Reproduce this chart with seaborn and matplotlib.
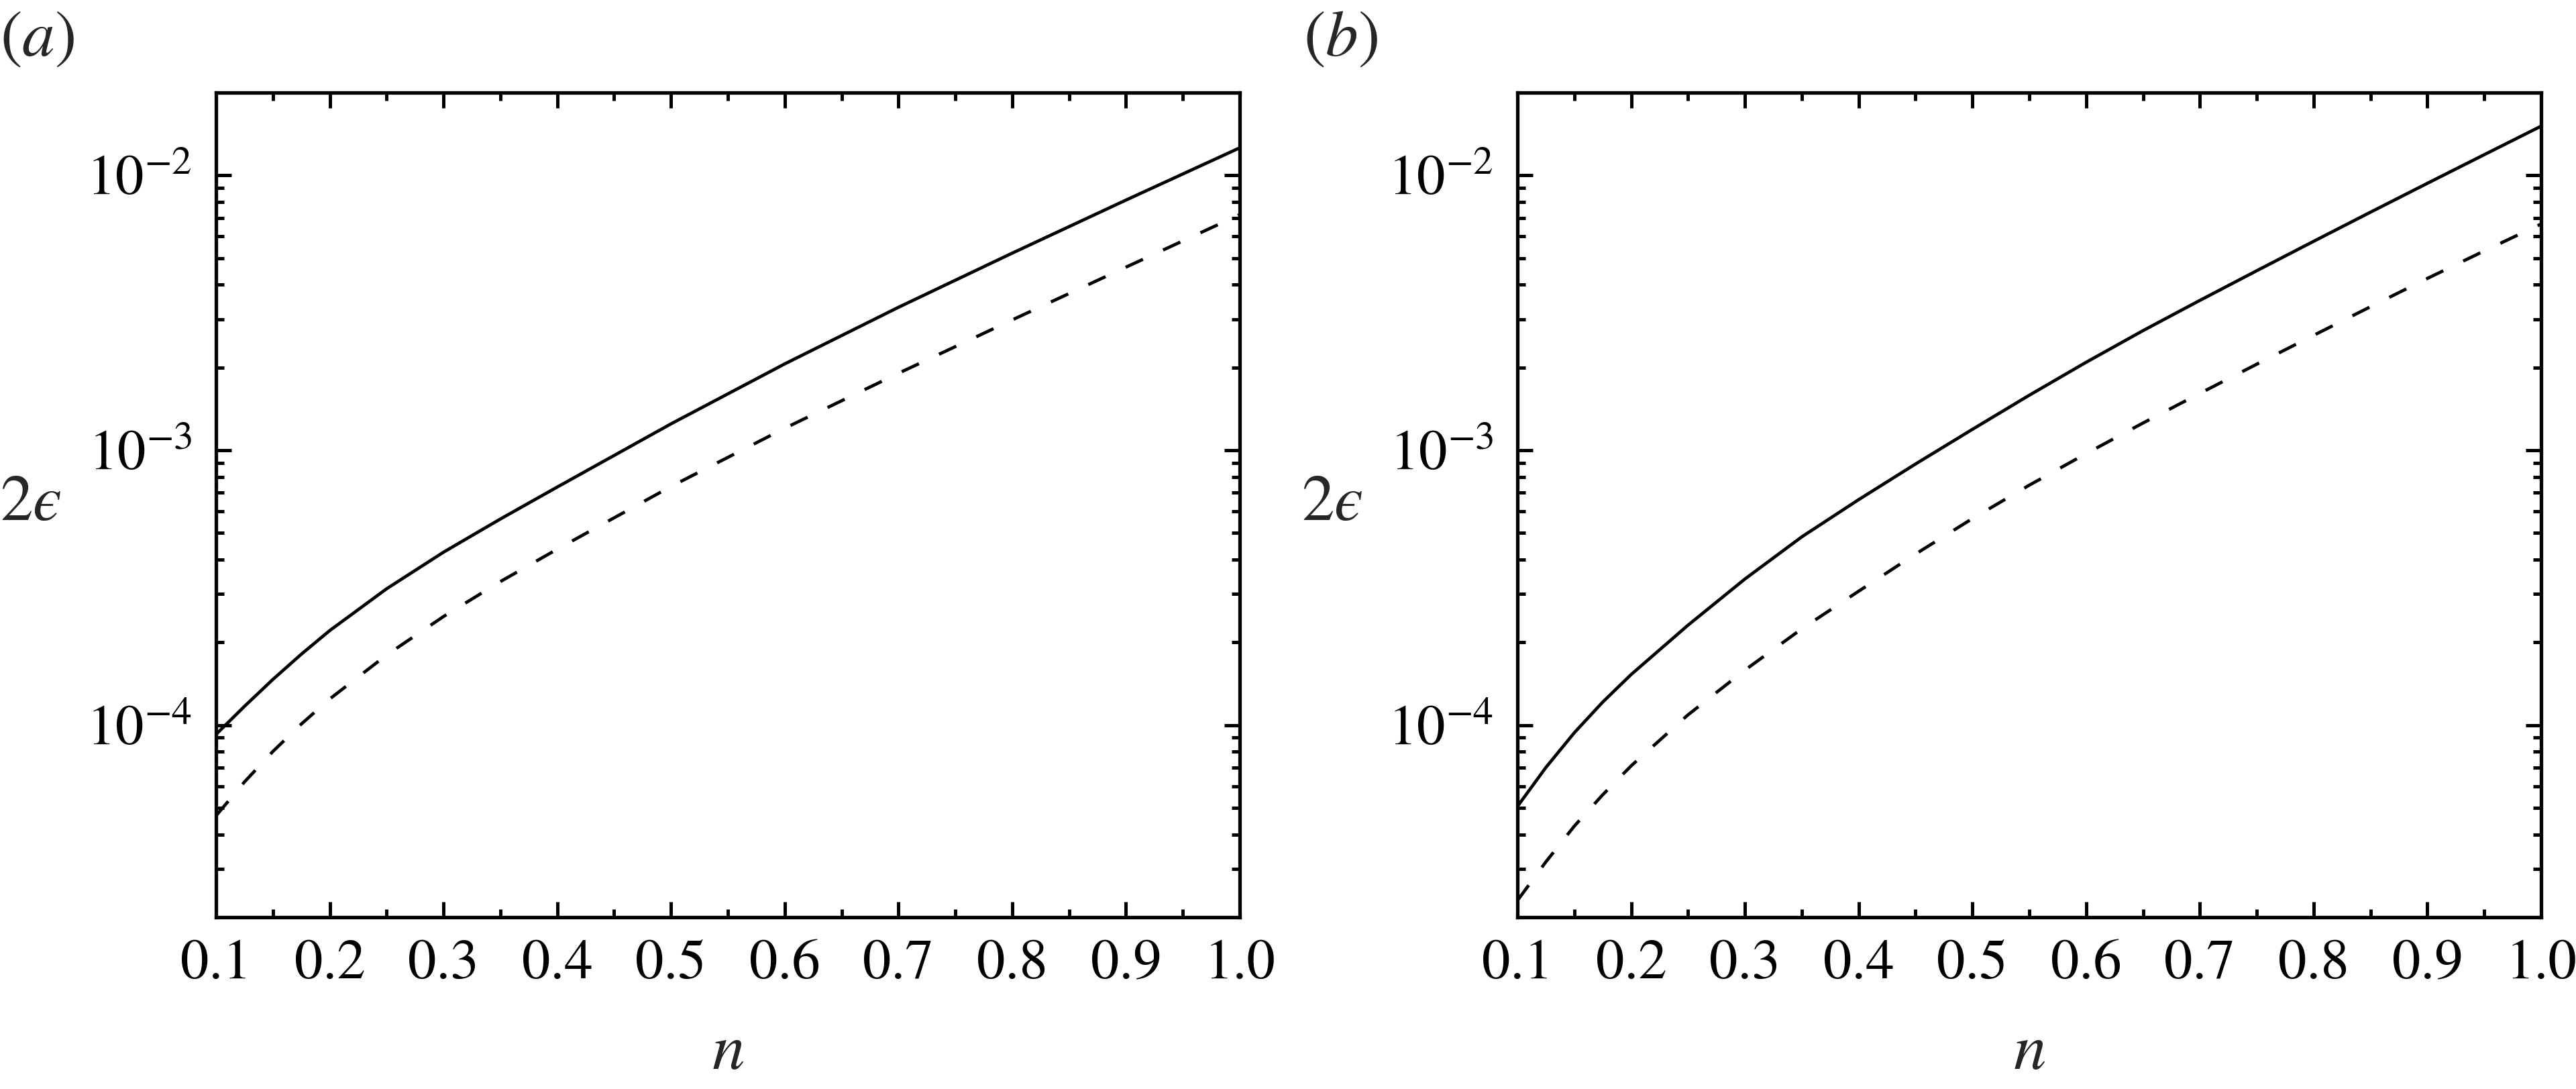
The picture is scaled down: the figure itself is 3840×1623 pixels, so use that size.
import numpy as np
import pandas as pd
import matplotlib
matplotlib.use("Agg")
import matplotlib.pyplot as plt
import seaborn as sns
from matplotlib.ticker import (LogLocator, MultipleLocator, FormatStrFormatter,
                               NullFormatter, LogFormatterSciNotation)

# ---------------- data ----------------
n_a = [0.1, 0.125, 0.15, 0.175, 0.2, 0.25, 0.3, 0.35, 0.4, 0.5, 0.6, 0.7, 0.8, 0.9, 1.0]
solid_a = [9.25e-5, 1.17e-4, 1.466e-4, 1.811e-4, 2.208e-4, 3.133e-4, 4.256e-4, 5.62e-4,
           7.345e-4, 1.247e-3, 2.061e-3, 3.311e-3, 5.212e-3, 8.128e-3, 1.259e-2]
dashed_a = [4.677e-5, 6.21e-5, 8.02e-5, 1.009e-4, 1.245e-4, 1.799e-4, 2.483e-4, 3.327e-4,
            4.365e-4, 7.38e-4, 1.202e-3, 1.905e-3, 2.979e-3, 4.634e-3, 7.194e-3]

n_b = [0.1, 0.125, 0.15, 0.175, 0.2, 0.25, 0.3, 0.35, 0.4, 0.45, 0.5, 0.55, 0.6,
       0.65, 0.7, 0.75, 0.8, 0.85, 0.9, 0.95, 1.0]
solid_b = [5.06e-5, 7.01e-5, 9.38e-5, 1.213e-4, 1.528e-4, 2.31e-4, 3.40e-4, 4.84e-4,
           6.61e-4, 8.91e-4, 1.191e-3, 1.585e-3, 2.089e-3, 2.723e-3, 3.508e-3, 4.498e-3,
           5.754e-3, 7.345e-3, 9.354e-3, 1.189e-2, 1.510e-2]
dashed_b = [2.30e-5, 3.18e-5, 4.29e-5, 5.58e-5, 7.11e-5, 1.09e-4, 1.585e-4, 2.24e-4,
            3.07e-4, 4.19e-4, 5.64e-4, 7.46e-4, 9.72e-4, 1.256e-3, 1.61e-3, 2.056e-3,
            2.618e-3, 3.327e-3, 4.217e-3, 5.309e-3, 6.65e-3]

panel_labels = [r"$(a)$", r"$(b)$"]
x_label = r"$n$"
y_label = "$2\u03f5$"
x_limits = (0.1, 1.0)
y_limits = (2e-5, 2e-2)

# ---------------- style ----------------
sns.set_theme(style="ticks")
plt.rcParams.update({
    "font.family": ["STIXGeneral", "DejaVu Serif"],
    "mathtext.fontset": "stix",
    "axes.facecolor": "white",
    "figure.facecolor": "white",
    "axes.edgecolor": "black",
    "axes.linewidth": 3.8,
    "xtick.color": "black",
    "ytick.color": "black",
})

W, H = 3840, 1623
fig = plt.figure(figsize=(W / 100, H / 100), dpi=100)

ax_lefts = [322, 2262]
ax_top, ax_bottom, ax_width = 138, 1367, 1526
label_x = [0, 1943]

panels = [(n_a, solid_a, dashed_a), (n_b, solid_b, dashed_b)]

for i, (n, s, d) in enumerate(panels):
    ax = fig.add_axes([ax_lefts[i] / W, 1 - ax_bottom / H,
                       ax_width / W, (ax_bottom - ax_top) / H])
    df = pd.concat([
        pd.DataFrame({"n": n, "eps": s, "curve": "solid"}),
        pd.DataFrame({"n": n, "eps": d, "curve": "dashed"}),
    ], ignore_index=True)
    sns.lineplot(data=df, x="n", y="eps", style="curve",
                 dashes={"solid": "", "dashed": (6, 7)},
                 color="black", lw=3.4, errorbar=None, legend=False, ax=ax)
    ax.set_yscale("log")
    ax.set_xlim(*x_limits)
    ax.set_ylim(*y_limits)

    ax.xaxis.set_major_locator(MultipleLocator(0.1))
    ax.xaxis.set_minor_locator(MultipleLocator(0.05))
    ax.xaxis.set_major_formatter(FormatStrFormatter("%.1f"))
    ax.yaxis.set_major_locator(LogLocator(base=10, numticks=12))
    ax.yaxis.set_minor_locator(LogLocator(base=10, subs=np.arange(2, 10), numticks=12))
    ax.yaxis.set_major_formatter(LogFormatterSciNotation())
    ax.yaxis.set_minor_formatter(NullFormatter())

    ax.tick_params(which="both", direction="in", top=True, right=True,
                   width=3.6, labelsize=61)
    ax.tick_params(which="major", length=16.5)
    ax.tick_params(which="minor", length=8.5)
    ax.tick_params(axis="x", which="major", pad=24)
    ax.tick_params(axis="y", which="major", pad=26)

    for sp in ax.spines.values():
        sp.set_visible(True)
        sp.set_linewidth(3.8)
        sp.set_color("black")

    ax.set_xlabel(x_label, fontsize=70, va="baseline")
    ax.xaxis.set_label_coords(0.5, -0.184)
    ax.set_ylabel(y_label, fontsize=70, rotation=0, ha="center", va="center")
    ax.yaxis.set_label_coords(-0.181, 0.5)
    ax.grid(False)

    fig.text(label_x[i] / W, 1 - 83 / H, panel_labels[i], fontsize=70,
             ha="left", va="baseline")

fig.savefig("out.png", dpi=100)
